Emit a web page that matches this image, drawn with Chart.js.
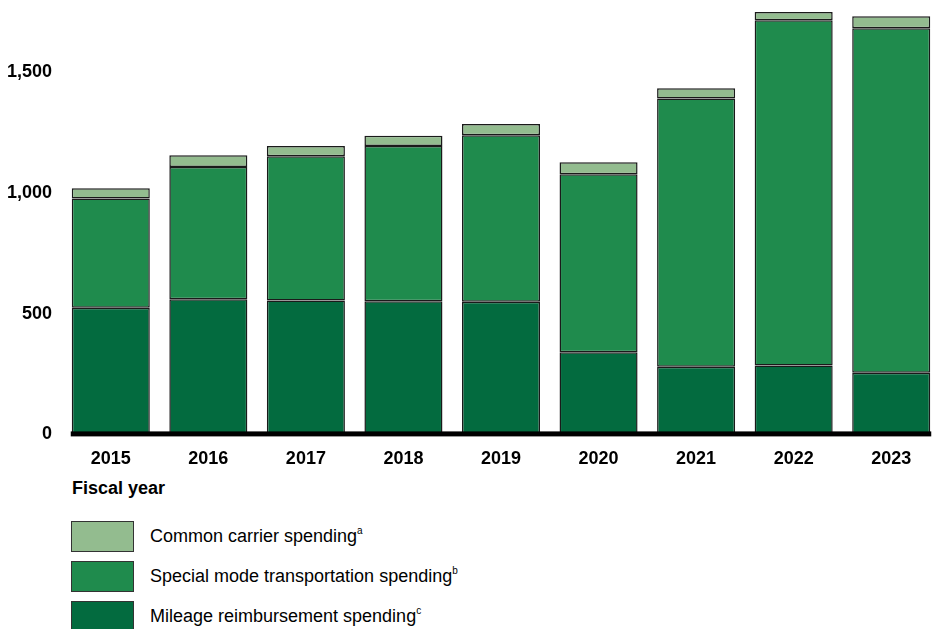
<!DOCTYPE html>
<html>
<head>
<meta charset="utf-8">
<script src="https://cdn.jsdelivr.net/npm/chart.js@4.4.1/dist/chart.umd.min.js"></script>
<style>
  html, body { margin: 0; padding: 0; background: #fff; overflow: hidden; }
  body { width: 935px; height: 629px; font-family: "Liberation Sans", Arial, sans-serif; color: #000; }
  #wrap { position: relative; width: 940px; height: 476px; }
  #xtitle { position: absolute; left: 72px; top: 478px; font-size: 18px; font-weight: bold; }
  .leg { position: absolute; left: 71px; height: 32px; display: flex; align-items: center; font-size: 18px; }
  .leg .sw { width: 61px; height: 29px; border: 1.5px solid #333; margin-right: 16px; }
  .leg sup { font-size: 10px; vertical-align: 8px; line-height: 0; }
</style>
</head>
<body>
<div id="wrap"><canvas id="spendingGraph"></canvas></div>
<div id="xtitle">Fiscal year</div>
<div class="leg" style="top:520px"><div class="sw" style="background:#93bc8f"></div><span>Common carrier spending<sup>a</sup></span></div>
<div class="leg" style="top:560px"><div class="sw" style="background:#1f8b4d"></div><span>Special mode transportation spending<sup>b</sup></span></div>
<div class="leg" style="top:600px"><div class="sw" style="background:#036b3f"></div><span>Mileage reimbursement spending<sup>c</sup></span></div>
<script>
var years = ['2015', '2016', '2017', '2018', '2019', '2020', '2021', '2022', '2023']
var mileage = [525, 560, 555, 552, 550, 340, 280, 285, 255]
var specialMode = [453, 548, 598, 643, 690, 738, 1112, 1431, 1428]
var commonCarrier = [42, 49, 42, 42, 46, 50, 42, 34, 50]
var yTicks = [0, 500, 1000, 1500]

// thick black base line, from first bar to last bar
var baseLine = {
    id: 'baseLine',
    afterDatasetsDraw(chart) {
        var bars = chart.getDatasetMeta(0).data
        var y = chart.scales.y.getPixelForValue(0)
        var first = bars[0], last = bars[bars.length - 1]
        var ctx = chart.ctx
        ctx.save()
        ctx.fillStyle = '#000'
        ctx.fillRect(first.x - first.width / 2 - 1, y - 3, (last.x + last.width / 2) - (first.x - first.width / 2) + 2, 5)
        ctx.restore()
    }
}

var myChart = new Chart(document.getElementById('spendingGraph'), {
    type: 'bar',
    data: {
        labels: years,
        datasets: [
            { label: 'Mileage reimbursement spending', data: mileage, backgroundColor: '#036b3f' },
            { label: 'Special mode transportation spending', data: specialMode, backgroundColor: '#1f8b4d' },
            { label: 'Common carrier spending', data: commonCarrier, backgroundColor: '#93bc8f' }
        ].map(function (d) {
            d.borderColor = '#1a1a1a'
            d.borderWidth = 1.5
            d.borderSkipped = false
            d.barPercentage = 0.8
            d.categoryPercentage = 1
            d.clip = false
            return d
        })
    },
    options: {
        responsive: true,
        maintainAspectRatio: false,
        animation: false,
        plugins: { legend: { display: false }, tooltip: { enabled: false } },
        scales: {
            x: {
                stacked: true,
                grid: { display: false },
                border: { display: false },
                ticks: { color: '#000', padding: 6, font: { family: 'Liberation Sans', size: 18, weight: 'bold' } }
            },
            y: {
                stacked: true,
                min: 0,
                max: 1800,
                grid: { display: false },
                border: { display: false },
                afterBuildTicks: function (scale) {
                    scale.ticks = yTicks.map(function (v) { return { value: v } })
                },
                afterFit: function (scale) {
                    scale.width = 62
                    scale.paddingTop = 0
                },
                ticks: {
                    color: '#000',
                    padding: 2,
                    font: { family: 'Liberation Sans', size: 18, weight: 'bold' },
                    callback: function (v) { return v.toLocaleString('en-US') }
                }
            }
        }
    },
    plugins: [baseLine]
});
</script>
</body>
</html>
